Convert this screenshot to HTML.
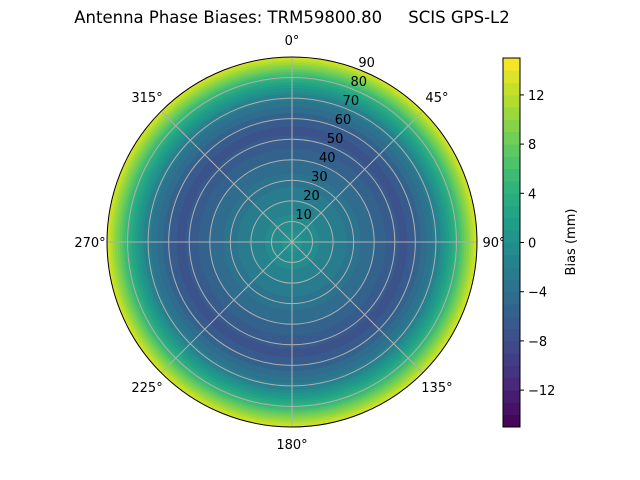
<!DOCTYPE html>
<html><head><meta charset="utf-8"><style>
body{margin:0;background:#fff}
svg{display:block}
text{font-family:"DejaVu Sans","Liberation Sans",sans-serif;font-size:13px;fill:#000}
</style></head><body>
<svg id="s" width="640" height="480" xmlns="http://www.w3.org/2000/svg">
<text x="292" y="23" text-anchor="middle" style="font-size:16.5px;white-space:pre" xml:space="preserve">Antenna Phase Biases: TRM59800.80     SCIS GPS-L2</text>
<g id="rings"></g>
<g id="grid" stroke="#b0b0b0" stroke-width="1" fill="none"></g>
<circle cx="292" cy="242" r="185" fill="none" stroke="#000" stroke-width="1"/>
<g id="lbl"></g>
<g id="cb"></g>
<rect x="503" y="58" width="17" height="369" fill="none" stroke="#000" stroke-width="1"/>
<text transform="translate(575,242) rotate(-90)" text-anchor="middle">Bias (mm)</text>
</svg>
<script>
const V=[[68,1,84],[72,40,120],[62,74,137],[49,104,142],[38,130,142],[31,158,137],[53,183,121],[109,205,89],[180,222,44],[253,231,37]];
function vir(t){t=Math.max(0,Math.min(1,t))*9;let i=Math.min(8,Math.floor(t)),f=t-i;let a=V[i],b=V[i+1];return`rgb(${a.map((v,k)=>Math.round(v+(b[k]-v)*f)).join(',')})`;}
function bandCol(v){let lv=Math.floor(v)+0.5;return vir((lv+15)/30);}
const pz=[[0,0.5],[10,-0.5],[20,-2],[30,-3.5],[40,-5],[50,-6.8],[55,-7.3],[60,-6],[70,-2.5],[75,1],[80,4.5],[90,13.5]];
function bias(z){for(let i=0;i<pz.length-1;i++){if(z<=pz[i+1][0]){let f=(z-pz[i][0])/(pz[i+1][0]-pz[i][0]);return pz[i][1]+(pz[i+1][1]-pz[i][1])*f;}}return 13.5;}
const ns="http://www.w3.org/2000/svg";
function el(p,t,a,txt){let e=document.createElementNS(ns,t);for(let k in a)e.setAttribute(k,a[k]);if(txt)e.textContent=txt;p.appendChild(e);return e;}
const R=185,cx=292,cy=242;
let rg=document.getElementById('rings');
let prev=null;
for(let r=R;r>0;r-=0.25){let c=bandCol(bias(r/R*90));if(c!==prev){el(rg,'circle',{cx:cx,cy:cy,r:r,fill:c});prev=c;}}
let g=document.getElementById('grid');
for(let k=1;k<=8;k++)el(g,'circle',{cx:cx,cy:cy,r:R*k/9});
for(let a=0;a<360;a+=45){let t=a*Math.PI/180;el(g,'line',{x1:cx,y1:cy,x2:cx+R*Math.sin(t),y2:cy-R*Math.cos(t)});}
let l=document.getElementById('lbl');
for(let a=0;a<360;a+=45){let t=a*Math.PI/180,rr=R+(a%90==0?17:20);el(l,'text',{x:cx+rr*Math.sin(t),y:cy-rr*Math.cos(t)+5,'text-anchor':'middle'},a+'°');}
for(let k=1;k<=9;k++){let t=22.5*Math.PI/180,rr=R*k/9+10;el(l,'text',{x:cx+rr*Math.sin(t),y:cy-rr*Math.cos(t)+5,'text-anchor':'middle'},String(k*10));}
let cb=document.getElementById('cb');
for(let i=0;i<30;i++){let y0=427-(i+1)*369/30;el(cb,'rect',{x:503,y:y0,width:17,height:369/30+0.4,fill:vir((i+0.5)/30)});}
for(let v=-12;v<=12;v+=4){let y=242.5-v*12.3;el(cb,'line',{x1:520,y1:y,x2:524,y2:y,stroke:'#000'});el(cb,'text',{x:528,y:y+5},(v<0?'\u2212'+(-v):String(v)));}
</script>
</body></html>
